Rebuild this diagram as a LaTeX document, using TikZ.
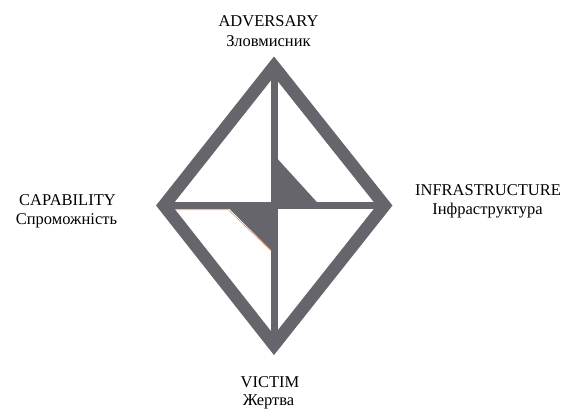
\documentclass[tikz,border=0pt]{standalone}
\usepackage{fontspec}
\setmainfont{Liberation Serif}
\definecolor{dgray}{RGB}{102,101,107}
\definecolor{edgeorange}{RGB}{240,150,100}
\tikzset{
  lbl/.style={anchor=base, inner sep=0pt, font=\fontsize{16.5}{20}\selectfont},
  frame/.style={draw=dgray, line width=12.5pt, line join=miter, miter limit=10},
  bar/.style={draw=dgray, line width=7pt},
}
\begin{document}
\begin{tikzpicture}[x=1pt,y=-1pt]
\useasboundingbox (0,0) rectangle (565,410);
\coordinate (T) at (274,66.5);
\coordinate (B) at (274,345);
\coordinate (L) at (164,205.5);
\coordinate (R) at (384.5,205.5);
\coordinate (C) at (274,205.5);
% filled triangles
\fill[dgray] (274,155) -- (320,205.5) -- (274,205.5) -- cycle;
\fill[dgray] (226,205.5) -- (274,205.5) -- (274,253) -- cycle;
\draw[edgeorange, line width=0.6pt] (172,209.7) -- (228.2,209.7) -- (270.6,250.5);
% bars
\draw[bar] (T) -- (B);
\draw[bar] (L) -- (R);
% outer diamond
\draw[frame] (T) -- (R) -- (B) -- (L) -- cycle;
% labels
\node[lbl] (adv) at (268.5,26.7) {ADVERSARY};
\node[lbl] (adv2) at (268.5,46.7) {Зловмисник};
\node[lbl] (cap) at (67.5,205) {CAPABILITY};
\node[lbl] (cap2) at (66.5,224) {Спроможність};
\node[lbl] (inf) at (488,195) {INFRASTRUCTURE};
\node[lbl] (inf2) at (487.5,214) {Інфраструктура};
\node[lbl] (vic) at (270,387) {VICTIM};
\node[lbl] (vic2) at (268.5,405.5) {Жертва};
\end{tikzpicture}
\end{document}
